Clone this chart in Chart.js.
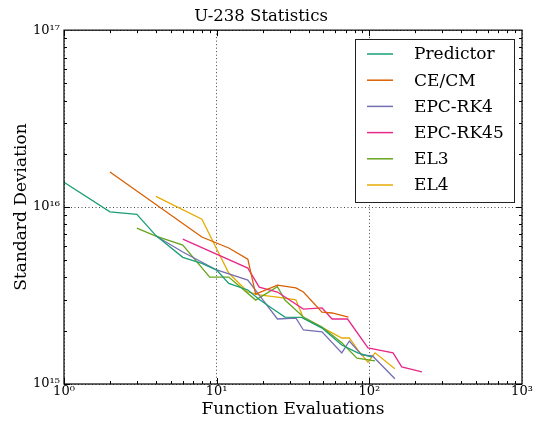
<!DOCTYPE html>
<html>
<head>
<meta charset="utf-8">
<script src="https://cdn.jsdelivr.net/npm/chart.js@4/dist/chart.umd.min.js"></script>
<style>
  html, body { margin: 0; padding: 0; background: #fff; }
  canvas { display: block; }
</style>
</head>
<body>
<canvas id="u238Chart" width="536" height="427"></canvas>
<script>
// --- Data ---
const seriesNames = ['Predictor', 'CE/CM', 'EPC-RK4', 'EPC-RK45', 'EL3', 'EL4'];
const seriesColors = ['#1b9e77', '#d95f02', '#7570b3', '#e7298a', '#66a61e', '#e6ab02'];

const predictorX = [1, 2, 3, 4, 6, 8, 10, 12, 16, 19, 25, 28, 36, 49, 66, 84, 104];
const predictorY = [1.38e16, 9.4e15, 9.1e15, 6.9e15, 5.2e15, 4.8e15, 4.4e15, 3.7e15, 3.4e15, 3.0e15, 2.55e15, 2.39e15, 2.38e15, 2.07e15, 1.66e15, 1.5e15, 1.42e15];

const cecmX = [2, 8, 12, 16, 18, 25, 33, 37, 49, 57, 73];
const cecmY = [1.58e16, 6.77e15, 5.87e15, 5.08e15, 3.22e15, 3.62e15, 3.49e15, 3.31e15, 2.55e15, 2.52e15, 2.39e15];

const rk4X = [4, 6, 10, 16, 19, 25, 33, 37, 49, 66, 74, 89, 105, 147];
const rk4Y = [6.86e15, 5.57e15, 4.41e15, 3.87e15, 3.18e15, 2.33e15, 2.36e15, 2.02e15, 1.97e15, 1.5e15, 1.75e15, 1.46e15, 1.44e15, 1.07e15];

const rk45X = [6, 16, 19, 25, 37, 49, 57, 72, 98, 143, 163, 221];
const rk45Y = [6.59e15, 4.52e15, 3.53e15, 3.31e15, 2.65e15, 2.69e15, 2.33e15, 2.33e15, 1.6e15, 1.5e15, 1.25e15, 1.17e15];

const el3X = [3, 4, 6, 9, 12, 18, 25, 28, 37, 49, 66, 83, 109];
const el3Y = [7.6e15, 6.86e15, 6.1e15, 4.02e15, 4.02e15, 2.98e15, 3.55e15, 2.98e15, 2.39e15, 2.1e15, 1.71e15, 1.4e15, 1.35e15];

const el4X = [4, 8, 12, 16, 19, 25, 33, 37, 50, 66, 74, 84, 98, 109, 147];
const el4Y = [1.15e16, 8.55e15, 4.24e15, 3.31e15, 3.19e15, 3.1e15, 2.99e15, 2.36e15, 2.07e15, 1.82e15, 1.82e15, 1.56e15, 1.33e15, 1.5e15, 1.22e15];

const xTicks = [1, 10, 100, 1000];
const xTickLabels = ['10\u2070', '10\u00b9', '10\u00b2', '10\u00b3'];
const yTicks = [1e15, 1e16, 1e17];
const yTickLabels = ['10\u00b9\u2075', '10\u00b9\u2076', '10\u00b9\u2077'];

const allX = [predictorX, cecmX, rk4X, rk45X, el3X, el4X];
const allY = [predictorY, cecmY, rk4Y, rk45Y, el3Y, el4Y];

const serif = "'DejaVu Serif', 'Liberation Serif', serif";

// frame + inward ticks on all four sides (matplotlib classic look)
const frameTicks = {
    id: 'frameTicks',
    afterDraw(chart) {
        const { ctx, chartArea: a, scales } = chart;
        ctx.save();
        ctx.strokeStyle = '#000';
        ctx.lineWidth = 1;
        ctx.beginPath();
        for (let d = 0; d < 3; d++) {
            for (let k = 1; k <= 9; k++) {
                const v = k * Math.pow(10, d);
                const px = Math.round(scales.x.getPixelForValue(v)) + 0.5;
                const len = k === 1 ? 6 : 3;
                ctx.moveTo(px, a.bottom); ctx.lineTo(px, a.bottom - len);
                ctx.moveTo(px, a.top); ctx.lineTo(px, a.top + len);
            }
        }
        for (let d = 15; d < 17; d++) {
            for (let k = 1; k <= 9; k++) {
                const v = k * Math.pow(10, d);
                const py = Math.round(scales.y.getPixelForValue(v)) + 0.5;
                const len = k === 1 ? 6 : 3;
                ctx.moveTo(a.left, py); ctx.lineTo(a.left + len, py);
                ctx.moveTo(a.right, py); ctx.lineTo(a.right - len, py);
            }
        }
        ctx.stroke();
        ctx.lineWidth = 1.2;
        ctx.strokeRect(a.left, a.top, a.right - a.left, a.bottom - a.top);
        ctx.restore();
    }
};

// boxed legend in the upper right corner
const boxLegend = {
    id: 'boxLegend',
    afterDraw(chart) {
        const { ctx } = chart;
        const left = 355, top = 39, w = 159, h = 163;
        ctx.save();
        ctx.fillStyle = '#fff';
        ctx.fillRect(left, top, w, h);
        ctx.strokeStyle = '#222';
        ctx.lineWidth = 1;
        ctx.strokeRect(left + 0.5, top + 0.5, w, h);
        ctx.font = '17px ' + serif;
        ctx.textBaseline = 'middle';
        ctx.fillStyle = '#000';
        chart.data.datasets.forEach((ds, i) => {
            const y = 54 + i * 26.2;
            ctx.strokeStyle = ds.borderColor;
            ctx.lineWidth = 1.5;
            ctx.beginPath();
            ctx.moveTo(367, y); ctx.lineTo(393, y);
            ctx.stroke();
            ctx.fillText(ds.label, 414, y + 1);
        });
        ctx.restore();
    }
};

const datasets = seriesNames.map((name, i) => ({
    label: name,
    data: allX[i].map((x, j) => ({ x: x, y: allY[i][j] })),
    borderColor: seriesColors[i],
    backgroundColor: seriesColors[i],
    borderWidth: 1.3,
    pointRadius: 0,
    tension: 0,
    fill: false
}));

const ctx = document.getElementById('u238Chart');
new Chart(ctx.getContext('2d'), {
    type: 'line',
    data: { datasets: datasets },
    options: {
        responsive: false,
        animation: false,
        devicePixelRatio: 1,
        layout: { padding: { top: 0, right: 14, bottom: 0, left: 0 } },
        plugins: {
            legend: { display: false },
            tooltip: { enabled: false },
            title: {
                display: true,
                text: 'U-238 Statistics',
                color: '#000',
                font: { family: serif, size: 16.5, weight: 'normal', lineHeight: 1.1 },
                padding: { top: 8, bottom: 4 }
            }
        },
        scales: {
            x: {
                type: 'logarithmic',
                min: 1,
                max: 1000,
                afterBuildTicks: scale => { scale.ticks = xTicks.map(v => ({ value: v })); },
                afterFit: scale => { scale.height = 43; },
                ticks: {
                    color: '#000',
                    font: { family: serif, size: 13 },
                    padding: 0,
                    maxRotation: 0,
                    autoSkip: false,
                    callback: (v) => xTickLabels[xTicks.indexOf(v)]
                },
                grid: { color: '#444', lineWidth: 1, drawTicks: false },
                border: { display: false, dash: [1, 2.5] },
                title: {
                    display: true,
                    text: 'Function Evaluations',
                    color: '#000',
                    font: { family: serif, size: 17 },
                    padding: { top: 0, bottom: 7 }
                }
            },
            y: {
                type: 'logarithmic',
                min: 1e15,
                max: 1e17,
                afterBuildTicks: scale => { scale.ticks = yTicks.map(v => ({ value: v })); },
                afterFit: scale => { scale.width = 64; },
                ticks: {
                    color: '#000',
                    font: { family: serif, size: 13 },
                    padding: 4,
                    autoSkip: false,
                    callback: (v) => yTickLabels[yTicks.indexOf(v)]
                },
                grid: { color: '#444', lineWidth: 1, drawTicks: false },
                border: { display: false, dash: [1, 2.5] },
                title: {
                    display: true,
                    text: 'Standard Deviation',
                    color: '#000',
                    font: { family: serif, size: 17 },
                    padding: { top: 11, bottom: 0 }
                }
            }
        }
    },
    plugins: [frameTicks, boxLegend]
});
</script>
</body>
</html>
